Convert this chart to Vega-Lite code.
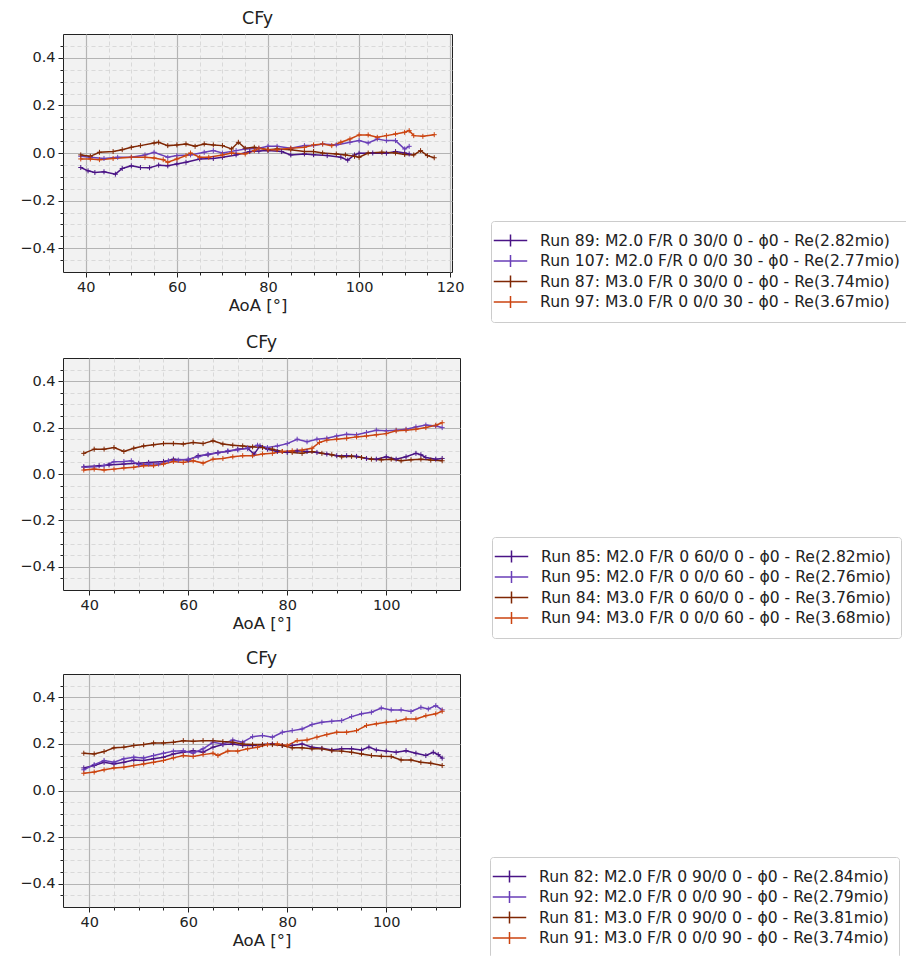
{
  "$schema": "https://vega.github.io/schema/vega-lite/v6.json",
  "padding": {"left": 19, "top": 9, "right": 0, "bottom": 0},
  "config": {
    "font": "DejaVu Sans",
    "view": {"fill": "#f2f2f2", "stroke": "#222222", "strokeWidth": 1},
    "axis": {"labelFont": "DejaVu Sans", "labelFontSize": 14.5, "labelColor": "#222222", "tickColor": "#222222", "domain": false, "titleFont": "DejaVu Sans", "titleFontSize": 16.5, "titleFontWeight": "normal", "titleColor": "#222222", "labelFlush": false, "labelOverlap": false, "labelPadding": 3},
    "title": {"font": "DejaVu Sans", "fontSize": 17.5, "fontWeight": "normal", "color": "#222222", "offset": 7},
    "legend": {"orient": "none", "labelFont": "DejaVu Sans", "labelFontSize": 15.6, "labelColor": "#222222", "symbolSize": 280, "symbolStrokeWidth": 1.5, "symbolFillColor": "transparent", "symbolOffset": 0, "strokeColor": "#cccccc", "fillColor": "white", "cornerRadius": 3, "padding": 10, "rowPadding": 1.5, "labelOffset": 20, "labelLimit": 0}
  },
  "datasets": {
    "p1": [
      {"s":"89","x":38.9,"y":-0.061},{"s":"89","x":40.5,"y":-0.075},{"s":"89","x":42,"y":-0.082},{"s":"89","x":44,"y":-0.079},{"s":"89","x":46.5,"y":-0.089},{"s":"89","x":48,"y":-0.065},{"s":"89","x":50,"y":-0.054},{"s":"89","x":52,"y":-0.061},{"s":"89","x":54,"y":-0.062},{"s":"89","x":56,"y":-0.051},{"s":"89","x":58,"y":-0.054},{"s":"89","x":60,"y":-0.046},{"s":"89","x":62,"y":-0.039},{"s":"89","x":65,"y":-0.025},{"s":"89","x":68,"y":-0.023},{"s":"89","x":70,"y":-0.018},{"s":"89","x":73,"y":-0.008},{"s":"89","x":76,"y":0.006},{"s":"89","x":78,"y":0.008},{"s":"89","x":80,"y":0.01},{"s":"89","x":83,"y":0.006},{"s":"89","x":85,"y":-0.008},{"s":"89","x":88,"y":-0.004},{"s":"89","x":90,"y":-0.007},{"s":"89","x":93,"y":-0.011},{"s":"89","x":96,"y":-0.018},{"s":"89","x":97.5,"y":-0.03},{"s":"89","x":99,"y":-0.008},{"s":"89","x":100,"y":-0.001},{"s":"89","x":103,"y":0},{"s":"89","x":106,"y":-0.001},{"s":"89","x":108,"y":0.006},{"s":"89","x":110,"y":0},{"s":"89","x":111,"y":-0.004},
      {"s":"107","x":38.9,"y":-0.014},{"s":"107","x":41,"y":-0.018},{"s":"107","x":44,"y":-0.023},{"s":"107","x":47,"y":-0.018},{"s":"107","x":50,"y":-0.018},{"s":"107","x":53,"y":-0.008},{"s":"107","x":55,"y":0.003},{"s":"107","x":58,"y":-0.018},{"s":"107","x":60,"y":-0.011},{"s":"107","x":63,"y":-0.008},{"s":"107","x":66,"y":0.003},{"s":"107","x":68,"y":0.01},{"s":"107","x":70,"y":0},{"s":"107","x":73,"y":0.01},{"s":"107","x":75,"y":0.017},{"s":"107","x":78,"y":0.02},{"s":"107","x":80,"y":0.028},{"s":"107","x":82,"y":0.028},{"s":"107","x":85,"y":0.02},{"s":"107","x":88,"y":0.031},{"s":"107","x":90,"y":0.031},{"s":"107","x":92,"y":0.038},{"s":"107","x":95,"y":0.034},{"s":"107","x":98,"y":0.045},{"s":"107","x":100,"y":0.052},{"s":"107","x":102,"y":0.042},{"s":"107","x":104,"y":0.059},{"s":"107","x":106,"y":0.052},{"s":"107","x":108,"y":0.052},{"s":"107","x":110,"y":0.017},{"s":"107","x":111,"y":0.028},
      {"s":"87","x":38.9,"y":-0.008},{"s":"87","x":41,"y":-0.014},{"s":"87","x":43,"y":0.003},{"s":"87","x":46,"y":0.006},{"s":"87","x":48,"y":0.014},{"s":"87","x":50,"y":0.024},{"s":"87","x":52,"y":0.031},{"s":"87","x":55,"y":0.042},{"s":"87","x":56,"y":0.045},{"s":"87","x":58,"y":0.031},{"s":"87","x":60,"y":0.034},{"s":"87","x":62,"y":0.038},{"s":"87","x":64,"y":0.028},{"s":"87","x":66,"y":0.038},{"s":"87","x":68,"y":0.034},{"s":"87","x":70,"y":0.031},{"s":"87","x":72,"y":0.017},{"s":"87","x":73.5,"y":0.045},{"s":"87","x":75,"y":0.02},{"s":"87","x":77,"y":0.024},{"s":"87","x":80,"y":0.014},{"s":"87","x":82,"y":0.017},{"s":"87","x":85,"y":0.014},{"s":"87","x":88,"y":0.006},{"s":"87","x":90,"y":0.006},{"s":"87","x":92,"y":0},{"s":"87","x":95,"y":-0.004},{"s":"87","x":97,"y":-0.008},{"s":"87","x":99,"y":-0.014},{"s":"87","x":100,"y":-0.018},{"s":"87","x":102,"y":0},{"s":"87","x":105,"y":0.003},{"s":"87","x":108,"y":0},{"s":"87","x":110,"y":-0.006},{"s":"87","x":112,"y":-0.008},{"s":"87","x":113.5,"y":0.01},{"s":"87","x":115,"y":-0.011},{"s":"87","x":116.5,"y":-0.02},
      {"s":"97","x":38.9,"y":-0.025},{"s":"97","x":41,"y":-0.025},{"s":"97","x":43,"y":-0.028},{"s":"97","x":46,"y":-0.023},{"s":"97","x":50,"y":-0.018},{"s":"97","x":53,"y":-0.018},{"s":"97","x":55,"y":-0.021},{"s":"97","x":57,"y":-0.028},{"s":"97","x":58,"y":-0.039},{"s":"97","x":60,"y":-0.025},{"s":"97","x":62,"y":-0.011},{"s":"97","x":63,"y":0},{"s":"97","x":65,"y":-0.018},{"s":"97","x":67,"y":-0.018},{"s":"97","x":70,"y":-0.008},{"s":"97","x":72,"y":0},{"s":"97","x":75,"y":-0.004},{"s":"97","x":77,"y":0.01},{"s":"97","x":78,"y":0.02},{"s":"97","x":80,"y":0.014},{"s":"97","x":82,"y":0.014},{"s":"97","x":85,"y":0.02},{"s":"97","x":88,"y":0.024},{"s":"97","x":90,"y":0.034},{"s":"97","x":92,"y":0.038},{"s":"97","x":94,"y":0.031},{"s":"97","x":96,"y":0.045},{"s":"97","x":98,"y":0.059},{"s":"97","x":100,"y":0.076},{"s":"97","x":102,"y":0.076},{"s":"97","x":104,"y":0.066},{"s":"97","x":106,"y":0.073},{"s":"97","x":108,"y":0.08},{"s":"97","x":110,"y":0.087},{"s":"97","x":111,"y":0.094},{"s":"97","x":112,"y":0.073},{"s":"97","x":114,"y":0.07},{"s":"97","x":116.5,"y":0.077}
    ],
    "p2": [
      {"s":"85","x":38.9,"y":0.031},{"s":"85","x":42,"y":0.036},{"s":"85","x":44,"y":0.039},{"s":"85","x":47,"y":0.043},{"s":"85","x":50,"y":0.046},{"s":"85","x":52,"y":0.05},{"s":"85","x":55,"y":0.054},{"s":"85","x":57,"y":0.064},{"s":"85","x":60,"y":0.06},{"s":"85","x":62,"y":0.079},{"s":"85","x":64,"y":0.083},{"s":"85","x":66,"y":0.093},{"s":"85","x":68,"y":0.097},{"s":"85","x":70,"y":0.107},{"s":"85","x":72,"y":0.111},{"s":"85","x":73.3,"y":0.086},{"s":"85","x":74.5,"y":0.121},{"s":"85","x":76,"y":0.107},{"s":"85","x":78,"y":0.097},{"s":"85","x":80,"y":0.093},{"s":"85","x":82,"y":0.1},{"s":"85","x":84,"y":0.097},{"s":"85","x":86,"y":0.093},{"s":"85","x":88,"y":0.086},{"s":"85","x":90,"y":0.079},{"s":"85","x":92,"y":0.079},{"s":"85","x":94,"y":0.076},{"s":"85","x":96,"y":0.067},{"s":"85","x":98,"y":0.064},{"s":"85","x":100,"y":0.074},{"s":"85","x":102,"y":0.064},{"s":"85","x":104,"y":0.074},{"s":"85","x":106,"y":0.089},{"s":"85","x":107,"y":0.083},{"s":"85","x":108,"y":0.071},{"s":"85","x":110,"y":0.064},{"s":"85","x":111.3,"y":0.067},
      {"s":"95","x":38.9,"y":0.029},{"s":"95","x":41,"y":0.031},{"s":"95","x":43,"y":0.036},{"s":"95","x":45,"y":0.053},{"s":"95","x":47,"y":0.054},{"s":"95","x":48.5,"y":0.057},{"s":"95","x":50,"y":0.04},{"s":"95","x":52,"y":0.043},{"s":"95","x":54,"y":0.043},{"s":"95","x":56,"y":0.057},{"s":"95","x":58,"y":0.06},{"s":"95","x":60,"y":0.064},{"s":"95","x":62,"y":0.074},{"s":"95","x":64,"y":0.086},{"s":"95","x":66,"y":0.09},{"s":"95","x":68,"y":0.1},{"s":"95","x":70,"y":0.104},{"s":"95","x":72,"y":0.111},{"s":"95","x":74,"y":0.124},{"s":"95","x":76,"y":0.114},{"s":"95","x":78,"y":0.121},{"s":"95","x":80,"y":0.131},{"s":"95","x":82,"y":0.15},{"s":"95","x":84,"y":0.139},{"s":"95","x":86,"y":0.15},{"s":"95","x":88,"y":0.154},{"s":"95","x":90,"y":0.164},{"s":"95","x":92,"y":0.171},{"s":"95","x":94,"y":0.169},{"s":"95","x":96,"y":0.179},{"s":"95","x":98,"y":0.189},{"s":"95","x":100,"y":0.186},{"s":"95","x":102,"y":0.189},{"s":"95","x":104,"y":0.193},{"s":"95","x":106,"y":0.203},{"s":"95","x":108,"y":0.211},{"s":"95","x":110,"y":0.207},{"s":"95","x":111.3,"y":0.2},
      {"s":"84","x":38.9,"y":0.089},{"s":"84","x":41,"y":0.107},{"s":"84","x":43,"y":0.107},{"s":"84","x":45,"y":0.114},{"s":"84","x":47,"y":0.097},{"s":"84","x":49,"y":0.111},{"s":"84","x":51,"y":0.121},{"s":"84","x":53,"y":0.126},{"s":"84","x":55,"y":0.131},{"s":"84","x":57,"y":0.131},{"s":"84","x":59,"y":0.129},{"s":"84","x":61,"y":0.136},{"s":"84","x":63,"y":0.131},{"s":"84","x":65,"y":0.143},{"s":"84","x":67,"y":0.129},{"s":"84","x":69,"y":0.124},{"s":"84","x":71,"y":0.121},{"s":"84","x":73,"y":0.117},{"s":"84","x":75,"y":0.114},{"s":"84","x":77,"y":0.107},{"s":"84","x":79,"y":0.097},{"s":"84","x":81,"y":0.093},{"s":"84","x":83,"y":0.089},{"s":"84","x":85,"y":0.097},{"s":"84","x":87,"y":0.089},{"s":"84","x":89,"y":0.083},{"s":"84","x":91,"y":0.074},{"s":"84","x":93,"y":0.076},{"s":"84","x":95,"y":0.071},{"s":"84","x":97,"y":0.064},{"s":"84","x":99,"y":0.061},{"s":"84","x":101,"y":0.064},{"s":"84","x":103,"y":0.057},{"s":"84","x":105,"y":0.061},{"s":"84","x":107,"y":0.064},{"s":"84","x":109,"y":0.06},{"s":"84","x":111.3,"y":0.057},
      {"s":"94","x":38.9,"y":0.017},{"s":"94","x":41,"y":0.021},{"s":"94","x":43,"y":0.017},{"s":"94","x":45,"y":0.021},{"s":"94","x":47,"y":0.026},{"s":"94","x":49,"y":0.029},{"s":"94","x":51,"y":0.036},{"s":"94","x":53,"y":0.036},{"s":"94","x":55,"y":0.043},{"s":"94","x":57,"y":0.054},{"s":"94","x":59,"y":0.05},{"s":"94","x":61,"y":0.057},{"s":"94","x":63,"y":0.047},{"s":"94","x":65,"y":0.064},{"s":"94","x":67,"y":0.067},{"s":"94","x":69,"y":0.074},{"s":"94","x":71,"y":0.079},{"s":"94","x":73,"y":0.079},{"s":"94","x":75,"y":0.086},{"s":"94","x":77,"y":0.089},{"s":"94","x":79,"y":0.097},{"s":"94","x":81,"y":0.1},{"s":"94","x":83,"y":0.103},{"s":"94","x":85,"y":0.111},{"s":"94","x":86.5,"y":0.136},{"s":"94","x":88,"y":0.146},{"s":"94","x":90,"y":0.15},{"s":"94","x":92,"y":0.154},{"s":"94","x":94,"y":0.16},{"s":"94","x":96,"y":0.164},{"s":"94","x":98,"y":0.169},{"s":"94","x":100,"y":0.174},{"s":"94","x":102,"y":0.186},{"s":"94","x":104,"y":0.189},{"s":"94","x":106,"y":0.193},{"s":"94","x":108,"y":0.2},{"s":"94","x":110,"y":0.21},{"s":"94","x":111.3,"y":0.221}
    ],
    "p3": [
      {"s":"82","x":38.9,"y":0.097},{"s":"82","x":41,"y":0.107},{"s":"82","x":43,"y":0.121},{"s":"82","x":45,"y":0.114},{"s":"82","x":47,"y":0.121},{"s":"82","x":49,"y":0.131},{"s":"82","x":51,"y":0.129},{"s":"82","x":53,"y":0.136},{"s":"82","x":55,"y":0.143},{"s":"82","x":57,"y":0.157},{"s":"82","x":59,"y":0.164},{"s":"82","x":61,"y":0.171},{"s":"82","x":63,"y":0.164},{"s":"82","x":65,"y":0.186},{"s":"82","x":67,"y":0.197},{"s":"82","x":69,"y":0.2},{"s":"82","x":71,"y":0.193},{"s":"82","x":73,"y":0.193},{"s":"82","x":75,"y":0.197},{"s":"82","x":77,"y":0.2},{"s":"82","x":79,"y":0.193},{"s":"82","x":81,"y":0.193},{"s":"82","x":83,"y":0.2},{"s":"82","x":85,"y":0.186},{"s":"82","x":87,"y":0.181},{"s":"82","x":89,"y":0.174},{"s":"82","x":91,"y":0.179},{"s":"82","x":93,"y":0.179},{"s":"82","x":95,"y":0.174},{"s":"82","x":96.5,"y":0.186},{"s":"82","x":98,"y":0.174},{"s":"82","x":100,"y":0.169},{"s":"82","x":102,"y":0.164},{"s":"82","x":104,"y":0.171},{"s":"82","x":106,"y":0.16},{"s":"82","x":108,"y":0.15},{"s":"82","x":109.5,"y":0.164},{"s":"82","x":110.5,"y":0.154},{"s":"82","x":111.3,"y":0.139},
      {"s":"92","x":38.9,"y":0.089},{"s":"92","x":41,"y":0.111},{"s":"92","x":43,"y":0.129},{"s":"92","x":45,"y":0.121},{"s":"92","x":47,"y":0.136},{"s":"92","x":49,"y":0.143},{"s":"92","x":51,"y":0.14},{"s":"92","x":53,"y":0.15},{"s":"92","x":55,"y":0.16},{"s":"92","x":57,"y":0.169},{"s":"92","x":59,"y":0.171},{"s":"92","x":61,"y":0.16},{"s":"92","x":63,"y":0.179},{"s":"92","x":65,"y":0.207},{"s":"92","x":67,"y":0.2},{"s":"92","x":69,"y":0.217},{"s":"92","x":71,"y":0.207},{"s":"92","x":73,"y":0.231},{"s":"92","x":75,"y":0.236},{"s":"92","x":77,"y":0.229},{"s":"92","x":79,"y":0.25},{"s":"92","x":81,"y":0.257},{"s":"92","x":83,"y":0.264},{"s":"92","x":85,"y":0.283},{"s":"92","x":87,"y":0.293},{"s":"92","x":89,"y":0.297},{"s":"92","x":91,"y":0.3},{"s":"92","x":93,"y":0.317},{"s":"92","x":95,"y":0.329},{"s":"92","x":97,"y":0.336},{"s":"92","x":99,"y":0.354},{"s":"92","x":101,"y":0.346},{"s":"92","x":103,"y":0.346},{"s":"92","x":105,"y":0.339},{"s":"92","x":107,"y":0.357},{"s":"92","x":108.5,"y":0.35},{"s":"92","x":110,"y":0.364},{"s":"92","x":111.3,"y":0.346},
      {"s":"81","x":38.9,"y":0.16},{"s":"81","x":41,"y":0.157},{"s":"81","x":43,"y":0.167},{"s":"81","x":45,"y":0.183},{"s":"81","x":47,"y":0.186},{"s":"81","x":49,"y":0.193},{"s":"81","x":51,"y":0.197},{"s":"81","x":53,"y":0.204},{"s":"81","x":55,"y":0.204},{"s":"81","x":57,"y":0.207},{"s":"81","x":59,"y":0.214},{"s":"81","x":61,"y":0.211},{"s":"81","x":63,"y":0.214},{"s":"81","x":65,"y":0.214},{"s":"81","x":67,"y":0.21},{"s":"81","x":69,"y":0.207},{"s":"81","x":71,"y":0.2},{"s":"81","x":73,"y":0.197},{"s":"81","x":75,"y":0.197},{"s":"81","x":77,"y":0.197},{"s":"81","x":79,"y":0.193},{"s":"81","x":81,"y":0.183},{"s":"81","x":83,"y":0.183},{"s":"81","x":85,"y":0.179},{"s":"81","x":87,"y":0.179},{"s":"81","x":89,"y":0.171},{"s":"81","x":91,"y":0.169},{"s":"81","x":93,"y":0.164},{"s":"81","x":95,"y":0.157},{"s":"81","x":97,"y":0.15},{"s":"81","x":99,"y":0.147},{"s":"81","x":101,"y":0.146},{"s":"81","x":103,"y":0.131},{"s":"81","x":105,"y":0.131},{"s":"81","x":107,"y":0.121},{"s":"81","x":109,"y":0.117},{"s":"81","x":111.3,"y":0.107},
      {"s":"91","x":38.9,"y":0.074},{"s":"91","x":41,"y":0.079},{"s":"91","x":43,"y":0.089},{"s":"91","x":45,"y":0.097},{"s":"91","x":47,"y":0.1},{"s":"91","x":49,"y":0.107},{"s":"91","x":51,"y":0.114},{"s":"91","x":53,"y":0.121},{"s":"91","x":55,"y":0.129},{"s":"91","x":57,"y":0.14},{"s":"91","x":59,"y":0.15},{"s":"91","x":61,"y":0.146},{"s":"91","x":63,"y":0.154},{"s":"91","x":65,"y":0.16},{"s":"91","x":66,"y":0.15},{"s":"91","x":68,"y":0.169},{"s":"91","x":70,"y":0.169},{"s":"91","x":72,"y":0.179},{"s":"91","x":74,"y":0.186},{"s":"91","x":76,"y":0.197},{"s":"91","x":78,"y":0.2},{"s":"91","x":80,"y":0.193},{"s":"91","x":82,"y":0.214},{"s":"91","x":84,"y":0.217},{"s":"91","x":86,"y":0.229},{"s":"91","x":88,"y":0.24},{"s":"91","x":90,"y":0.25},{"s":"91","x":92,"y":0.25},{"s":"91","x":94,"y":0.257},{"s":"91","x":96,"y":0.279},{"s":"91","x":98,"y":0.286},{"s":"91","x":100,"y":0.293},{"s":"91","x":102,"y":0.297},{"s":"91","x":104,"y":0.307},{"s":"91","x":106,"y":0.307},{"s":"91","x":108,"y":0.321},{"s":"91","x":110,"y":0.329},{"s":"91","x":111.3,"y":0.34}
    ]
  },
  "vconcat": [
    {
      "title": "CFy",
      "width": 389, "height": 238,
      "data": {"name": "p1"},
      "layer": [
        {
          "mark": {"type": "line", "opacity": 0},
          "encoding": {
            "x": {"field": "x", "type": "quantitative", "scale": {"domain": [35, 120.4], "nice": false, "zero": false},
              "axis": {"orient": "bottom", "values": [45,50,55,65,70,75,85,90,95,105,110,115], "grid": true, "gridDash": [4,3], "gridColor": "#d2d2d2", "gridWidth": 0.8, "tickSize": 3, "labels": false, "title": null}},
            "y": {"field": "y", "type": "quantitative", "scale": {"domain": [-0.5, 0.5], "nice": false, "zero": false},
              "axis": {"orient": "left", "values": [-0.45,-0.35,-0.3,-0.25,-0.15,-0.1,-0.05,0.05,0.1,0.15,0.25,0.3,0.35,0.45], "grid": true, "gridDash": [4,3], "gridColor": "#d2d2d2", "gridWidth": 0.8, "tickSize": 3, "labels": false, "title": null}}
          }
        },
        {
          "mark": {"type": "line", "strokeWidth": 1.5, "point": {"shape": "M-1,0L1,0M0,-1L0,1", "filled": false, "size": 25, "strokeWidth": 1}},
          "encoding": {
            "x": {"field": "x", "type": "quantitative",
              "axis": {"orient": "bottom", "values": [40,60,80,100,120], "grid": true, "gridColor": "#b4b4b4", "gridWidth": 1.2, "tickSize": 5, "title": "AoA [°]", "titlePadding": 4}},
            "y": {"field": "y", "type": "quantitative",
              "axis": {"orient": "left", "values": [-0.4,-0.2,0,0.2,0.4], "format": ".1f", "grid": true, "gridColor": "#b4b4b4", "gridWidth": 1.2, "tickSize": 5, "title": null}},
            "color": {"field": "s", "type": "nominal",
              "scale": {"domain": ["89","107","87","97"], "range": ["#4a1486","#6a3fb8","#7f2704","#cc4410"]},
              "legend": {"title": null, "orient": "none", "legendX": 428, "legendY": 187, "symbolType": "M-2,0L2,0M0,-0.72L0,0.72",
                "labelExpr": "datum.label=='89'?'Run 89: M2.0 F/R 0 30/0 0 - ϕ0 - Re(2.82mio)':datum.label=='107'?'Run 107: M2.0 F/R 0 0/0 30 - ϕ0 - Re(2.77mio)':datum.label=='87'?'Run 87: M3.0 F/R 0 30/0 0 - ϕ0 - Re(3.74mio)':'Run 97: M3.0 F/R 0 0/0 30 - ϕ0 - Re(3.67mio)'"}}
          }
        }
      ],
      "resolve": {"axis": {"x": "independent", "y": "independent"}}
    },
    {
      "title": "CFy",
      "width": 397, "height": 232,
      "data": {"name": "p2"},
      "layer": [
        {
          "mark": {"type": "line", "opacity": 0},
          "encoding": {
            "x": {"field": "x", "type": "quantitative", "scale": {"domain": [34.7, 114.9], "nice": false, "zero": false},
              "axis": {"orient": "bottom", "values": [45,50,55,65,70,75,85,90,95,105,110], "grid": true, "gridDash": [4,3], "gridColor": "#d2d2d2", "gridWidth": 0.8, "tickSize": 3, "labels": false, "title": null}},
            "y": {"field": "y", "type": "quantitative", "scale": {"domain": [-0.5, 0.5], "nice": false, "zero": false},
              "axis": {"orient": "left", "values": [-0.45,-0.35,-0.3,-0.25,-0.15,-0.1,-0.05,0.05,0.1,0.15,0.25,0.3,0.35,0.45], "grid": true, "gridDash": [4,3], "gridColor": "#d2d2d2", "gridWidth": 0.8, "tickSize": 3, "labels": false, "title": null}}
          }
        },
        {
          "mark": {"type": "line", "strokeWidth": 1.5, "point": {"shape": "M-1,0L1,0M0,-1L0,1", "filled": false, "size": 25, "strokeWidth": 1}},
          "encoding": {
            "x": {"field": "x", "type": "quantitative",
              "axis": {"orient": "bottom", "values": [40,60,80,100], "grid": true, "gridColor": "#b4b4b4", "gridWidth": 1.2, "tickSize": 5, "title": "AoA [°]", "titlePadding": 4}},
            "y": {"field": "y", "type": "quantitative",
              "axis": {"orient": "left", "values": [-0.4,-0.2,0,0.2,0.4], "format": ".1f", "grid": true, "gridColor": "#b4b4b4", "gridWidth": 1.2, "tickSize": 5, "title": null}},
            "color": {"field": "s", "type": "nominal",
              "scale": {"domain": ["85","95","84","94"], "range": ["#4a1486","#6a3fb8","#7f2704","#cc4410"]},
              "legend": {"title": null, "orient": "none", "legendX": 429, "legendY": 179, "symbolType": "M-2,0L2,0M0,-0.72L0,0.72",
                "labelExpr": "datum.label=='85'?'Run 85: M2.0 F/R 0 60/0 0 - ϕ0 - Re(2.82mio)':datum.label=='95'?'Run 95: M2.0 F/R 0 0/0 60 - ϕ0 - Re(2.76mio)':datum.label=='84'?'Run 84: M3.0 F/R 0 60/0 0 - ϕ0 - Re(3.76mio)':'Run 94: M3.0 F/R 0 0/0 60 - ϕ0 - Re(3.68mio)'"}}
          }
        }
      ],
      "resolve": {"axis": {"x": "independent", "y": "independent"}}
    },
    {
      "title": "CFy",
      "width": 397, "height": 233,
      "data": {"name": "p3"},
      "layer": [
        {
          "mark": {"type": "line", "opacity": 0},
          "encoding": {
            "x": {"field": "x", "type": "quantitative", "scale": {"domain": [34.7, 114.9], "nice": false, "zero": false},
              "axis": {"orient": "bottom", "values": [45,50,55,65,70,75,85,90,95,105,110], "grid": true, "gridDash": [4,3], "gridColor": "#d2d2d2", "gridWidth": 0.8, "tickSize": 3, "labels": false, "title": null}},
            "y": {"field": "y", "type": "quantitative", "scale": {"domain": [-0.5, 0.5], "nice": false, "zero": false},
              "axis": {"orient": "left", "values": [-0.45,-0.35,-0.3,-0.25,-0.15,-0.1,-0.05,0.05,0.1,0.15,0.25,0.3,0.35,0.45], "grid": true, "gridDash": [4,3], "gridColor": "#d2d2d2", "gridWidth": 0.8, "tickSize": 3, "labels": false, "title": null}}
          }
        },
        {
          "mark": {"type": "line", "strokeWidth": 1.5, "point": {"shape": "M-1,0L1,0M0,-1L0,1", "filled": false, "size": 25, "strokeWidth": 1}},
          "encoding": {
            "x": {"field": "x", "type": "quantitative",
              "axis": {"orient": "bottom", "values": [40,60,80,100], "grid": true, "gridColor": "#b4b4b4", "gridWidth": 1.2, "tickSize": 5, "title": "AoA [°]", "titlePadding": 4}},
            "y": {"field": "y", "type": "quantitative",
              "axis": {"orient": "left", "values": [-0.4,-0.2,0,0.2,0.4], "format": ".1f", "grid": true, "gridColor": "#b4b4b4", "gridWidth": 1.2, "tickSize": 5, "title": null}},
            "color": {"field": "s", "type": "nominal",
              "scale": {"domain": ["82","92","81","91"], "range": ["#4a1486","#6a3fb8","#7f2704","#cc4410"]},
              "legend": {"title": null, "orient": "none", "legendX": 427, "legendY": 183, "symbolType": "M-2,0L2,0M0,-0.72L0,0.72",
                "labelExpr": "datum.label=='82'?'Run 82: M2.0 F/R 0 90/0 0 - ϕ0 - Re(2.84mio)':datum.label=='92'?'Run 92: M2.0 F/R 0 0/0 90 - ϕ0 - Re(2.79mio)':datum.label=='81'?'Run 81: M3.0 F/R 0 90/0 0 - ϕ0 - Re(3.81mio)':'Run 91: M3.0 F/R 0 0/0 90 - ϕ0 - Re(3.74mio)'"}}
          }
        }
      ],
      "resolve": {"axis": {"x": "independent", "y": "independent"}}
    }
  ],
  "spacing": 10,
  "resolve": {"scale": {"color": "independent"}}
}
